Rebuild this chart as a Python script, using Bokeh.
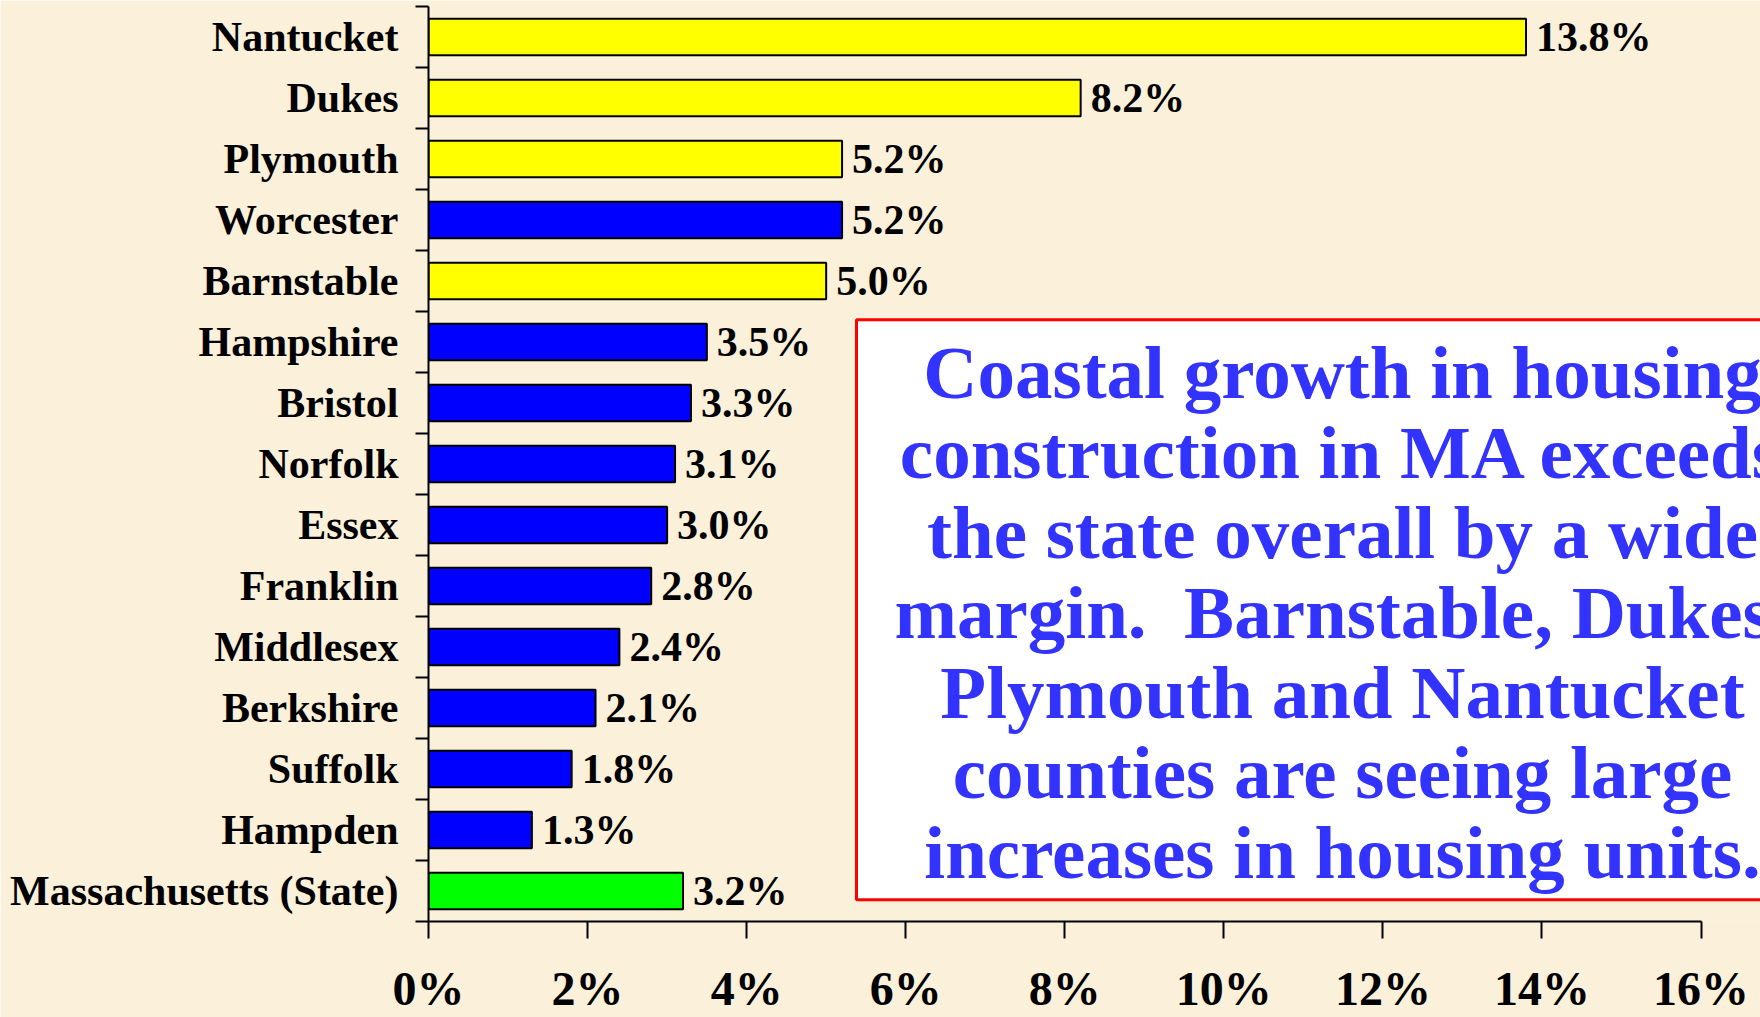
from bokeh.plotting import figure
from bokeh.models import Range1d, FixedTicker, BoxAnnotation, ColumnDataSource, PrintfTickFormatter
from bokeh.core.properties import value
from bokeh.embed import file_html
from bokeh.resources import INLINE

# ---- data ----
counties = ["Nantucket", "Dukes", "Plymouth", "Worcester", "Barnstable", "Hampshire",
            "Bristol", "Norfolk", "Essex", "Franklin", "Middlesex", "Berkshire",
            "Suffolk", "Hampden", "Massachusetts (State)"]
growth = [13.8, 8.2, 5.2, 5.2, 5.0, 3.5, 3.3, 3.1, 3.0, 2.8, 2.4, 2.1, 1.8, 1.3, 3.2]
group = ["coastal", "coastal", "coastal", "inland", "coastal", "inland", "inland", "inland",
         "inland", "inland", "inland", "inland", "inland", "inland", "state"]
x_ticks = [0, 2, 4, 6, 8, 10, 12, 14, 16]
note_lines = ["Coastal growth in housing",
              "construction in MA exceeds",
              "the state overall by a wide",
              "margin.\u00a0 Barnstable, Dukes,",
              "Plymouth and Nantucket",
              "counties are seeing large",
              "increases in housing units."]

# ---- styles / layout (pixels) ----
BG = "#FBF0DA"
FONT = "Liberation Serif"
palette = {"coastal": "#FFFF00", "inland": "#0000FF", "state": "#00FF00"}
W, H = 1760, 1017
LEFT = 428            # frame left
AXIS_TOP = 6          # top end of the y axis
AXIS_BOTTOM = 929     # x-axis line
X16_PX = 1700.5       # where the 16% tick sits

n = len(counties)
px_per_cat = (AXIS_BOTTOM - AXIS_TOP) / n
y_top = (n - 0.5) + AXIS_TOP / px_per_cat
y_axis = -0.5
px_per_pct = (X16_PX - LEFT) / x_ticks[-1]
x_end = (W - LEFT) / px_per_pct

def y_at_px(px):
    return y_top - px / px_per_cat

def x_at_px(px):
    return (px - LEFT) / px_per_pct

ypos = [n - 1 - i for i in range(n)]
src = ColumnDataSource(dict(
    y=ypos, v=growth,
    color=[palette[g] for g in group],
    label=[f"{v:.1f}%" for v in growth],
))

p = figure(width=W, height=H, output_backend="svg", toolbar_location=None,
           x_range=Range1d(0, x_end), y_range=Range1d(y_axis, y_top),
           min_border_left=LEFT, min_border_right=0, min_border_top=0,
           min_border_bottom=H - AXIS_BOTTOM,
           background_fill_color=BG, border_fill_color=BG, outline_line_color=None)
p.grid.visible = False

# note box (underlay so text glyphs are drawn on top)
box = BoxAnnotation(left=x_at_px(856), right=x_end + 1, top=y_at_px(322), bottom=y_at_px(907),
                    level="underlay", fill_color="white", fill_alpha=1.0,
                    line_color="#FF0000", line_alpha=1.0, line_width=3)
p.add_layout(box)

p.hbar(y="y", left=0, right="v", height=0.6, fill_color="color", line_color="black",
       line_width=2, source=src)
p.text(x="v", y="y", text="label", x_offset=10, text_align="left", text_baseline="middle",
       text_font=value(FONT), text_font_style="bold", text_font_size="42px",
       text_color="black", source=src)

# note text
note_step = 80.8 / px_per_cat
note_first = y_at_px(375)
note_src = ColumnDataSource(dict(
    x=[x_at_px(1342)] * len(note_lines),
    y=[note_first - i * note_step for i in range(len(note_lines))],
    t=note_lines,
))
p.text(x="x", y="y", text="t", text_align="center", text_baseline="middle",
       text_font=value(FONT), text_font_style="bold", text_font_size="75px",
       text_color="#3333FF", source=note_src)

# x axis
xa = p.xaxis[0]
xa.ticker = FixedTicker(ticks=x_ticks)
xa.bounds = (x_ticks[0], x_ticks[-1])
xa.formatter = PrintfTickFormatter(format="%d%%")
xa.axis_line_width = 2
xa.major_tick_line_width = 2
xa.major_tick_out = 17
xa.major_tick_in = 0
xa.minor_tick_line_color = None
xa.major_label_standoff = 23
xa.major_label_text_line_height = 1.0
xa.major_label_text_font = FONT
xa.major_label_text_font_style = "bold"
xa.major_label_text_font_size = "48px"
xa.major_label_text_color = "black"

# y axis: labels at category centers, ticks between categories
ya = p.yaxis[0]
ya.ticker = FixedTicker(ticks=ypos, minor_ticks=[k - 0.5 for k in range(n + 1)])
ya.bounds = (y_axis, n - 0.5)
ya.major_label_overrides = {y: c for y, c in zip(ypos, counties)}
ya.axis_line_width = 2
ya.major_tick_out = 0
ya.major_tick_in = 0
ya.minor_tick_out = 13
ya.minor_tick_in = 0
ya.minor_tick_line_width = 2
ya.minor_tick_line_color = "black"
ya.major_label_standoff = 17
ya.major_label_text_font = FONT
ya.major_label_text_font_style = "bold"
ya.major_label_text_font_size = "42px"
ya.major_label_text_color = "black"

open("out.html", "w").write(file_html(p, INLINE))
